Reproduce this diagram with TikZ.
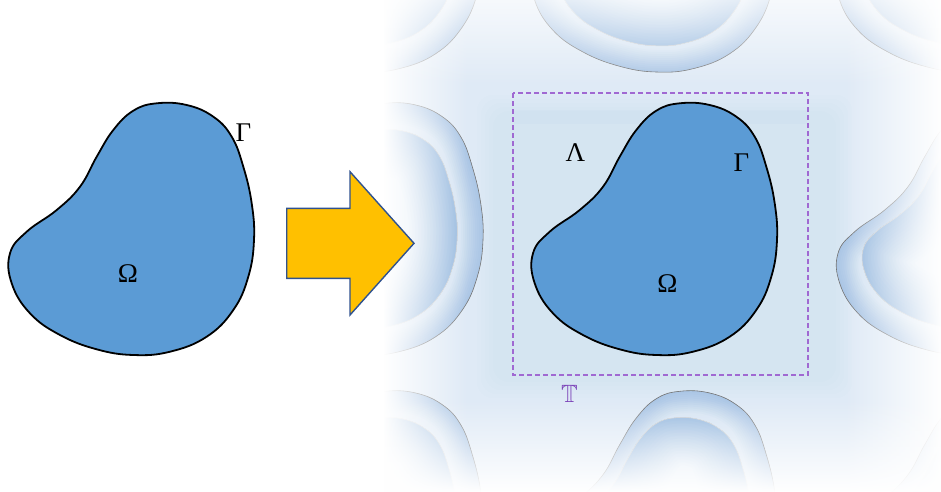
\documentclass[tikz,border=0pt]{standalone}
\usepackage{amssymb}
\usepackage{fontspec}
\setmainfont{Liberation Serif}
\usetikzlibrary{fadings}
\definecolor{blobblue}{RGB}{91,155,213}
\definecolor{panelbg}{RGB}{223,234,246}
\definecolor{nbfill}{RGB}{214,228,243}
\definecolor{nbglow}{RGB}{95,150,210}
\definecolor{nbinner}{RGB}{222,234,246}
\definecolor{arrowfill}{RGB}{255,192,0}
\definecolor{arrowline}{RGB}{47,82,143}
\definecolor{torusline}{RGB}{160,105,210}
\definecolor{toruslabel}{RGB}{125,70,185}
\tikzfading[name=fadeleft, left color=transparent!0, right color=transparent!100]
\tikzfading[name=faderight, left color=transparent!100, right color=transparent!0]
\tikzfading[name=fadetop, top color=transparent!0, bottom color=transparent!100]
\tikzfading[name=fadebottom, top color=transparent!100, bottom color=transparent!0]
\def\blobpath{plot[smooth cycle, tension=0.7] coordinates {(156.7,103.3) (186.7,105) (213.3,116.7) (231.7,136.7) (243.3,166.7) (251.7,203.3) (254,240) (248.3,276.7) (233.3,310) (206.7,336.7) (170,351.7) (133.3,355) (96.7,349.3) (60,335) (30,313.3) (11.7,283.3) (10,253.3) (26.7,231.7) (56.7,210) (80,186.7) (96.7,156.7) (113.3,130) (133.3,110.7)}}
\newcommand{\innerpart}{[shift={(131,230)}, scale=0.79, shift={(-131,-230)}]}
\newcommand{\neighbourblob}[2]{%
  \begin{scope}[shift={(#1,#2)}]
    \begin{scope}
      \clip \blobpath;
      \fill[nbfill] \blobpath;
      \foreach \w in {4,8,...,44} {\draw[nbglow, line width=\w, opacity=0.035] \blobpath;}
      \begin{scope}[shift={(131,230)}, scale=0.79, shift={(-131,-230)}]
        \clip \blobpath;
        \fill[nbinner] \blobpath;
        \foreach \w in {6,12,...,96} {\draw[nbglow, line width=\w, opacity=0.045] \blobpath;}
      \end{scope}
    \end{scope}
    \draw[black!55, line width=0.6] \blobpath;
    \begin{scope}[shift={(131,230)}, scale=0.79, shift={(-131,-230)}]
      \draw[black!18, line width=0.5] \blobpath;
    \end{scope}
  \end{scope}}
\tikzset{
  blobstyle/.style={fill=blobblue, draw=black, line width=1.8},
  greek/.style={font=\fontsize{27}{30}\selectfont, inner sep=0pt},
}
\begin{document}
\begin{tikzpicture}[x=1pt, y=-1pt]
\useasboundingbox (0,0) rectangle (941,491);
% panel background
\fill[panelbg] (384,0) rectangle (941,491);
\foreach \d in {0,4,...,16} {
  \fill[blobblue, opacity=0.012, rounded corners=16] (477+\d,95+\d) rectangle (852-\d,398-\d);
}
\fill[blobblue, opacity=0.03] (514,110) rectangle (807,124);
% periodic neighbours
\begin{scope}
  \clip (384,0) rectangle (941,491);
  \neighbourblob{229}{0}
  \neighbourblob{828}{0}
  \neighbourblob{523}{-283}
  \neighbourblob{523}{288}
  \neighbourblob{229}{-283}
  \neighbourblob{828}{-283}
  \neighbourblob{229}{288}
  \neighbourblob{828}{288}
\end{scope}
% fading to white at the edges
\fill[white, path fading=fadeleft] (383,0) rectangle (468,491);
\fill[white, path fading=faderight] (845,0) rectangle (942,491);
\fill[white, path fading=fadebottom] (383,400) rectangle (942,492);
\fill[white, path fading=fadetop, fill opacity=0.75] (383,-1) rectangle (942,85);
% torus box
\draw[torusline, line width=1.1, dash pattern=on 5pt off 3pt] (513,93) rectangle (808,375);
% blobs
\draw[blobstyle] \blobpath;
\draw[blobstyle, shift={(523,0)}] \blobpath;
% arrow
\draw[fill=arrowfill, draw=arrowline, line width=1.4, line join=miter]
  (286.7,208.3) -- (350,208.3) -- (350,171.7) -- (414,243.3) -- (350,315) -- (350,278.3) -- (286.7,278.3) -- cycle;
% labels
\node[greek] (gammaL) at (243.5,133) {Γ};
\node[greek] (omegaL) at (128,274) {Ω};
\node[greek] (lambdaR) at (575.5,153) {Λ};
\node[greek] (gammaR) at (741.5,163) {Γ};
\node[greek] (omegaR) at (667.5,283.5) {Ω};
\node[font=\fontsize{25}{28}\selectfont, text=toruslabel, inner sep=0pt] (torus) at (569.5,393.5) {$\mathbb{T}$};
\end{tikzpicture}
\end{document}
